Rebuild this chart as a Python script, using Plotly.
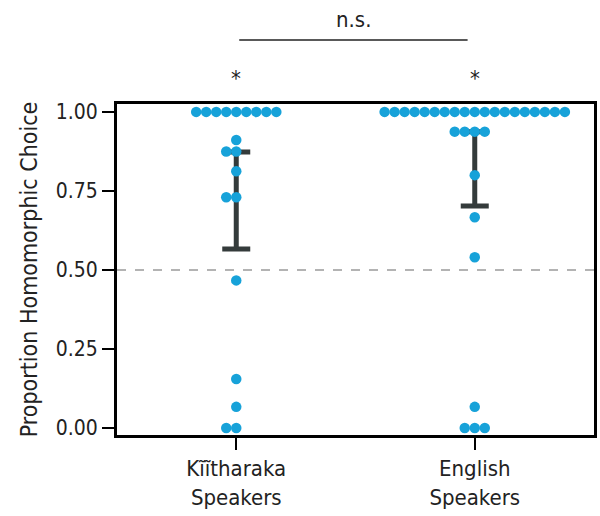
import plotly.graph_objects as go

categories = ["Kĩĩtharaka<br>Speakers", "English<br>Speakers"]
kiitharaka_vals = [1.0]*9 + [0.911, 0.875, 0.875, 0.8125, 0.73, 0.73, 0.467, 0.155, 0.067, 0.0, 0.0]
english_vals = [1.0]*19 + [0.9375]*4 + [0.80, 0.667, 0.54, 0.067, 0.0, 0.0, 0.0]
err_center = [0.72, 0.82]
err_half = [0.1535, 0.1175]
y_ticks = [0.0, 0.25, 0.5, 0.75, 1.0]
y_ticklabels = ["0.00", "0.25", "0.50", "0.75", "1.00"]
chance_level = 0.5
stars = ["*", "*"]
comparison_label = "n.s."

DOT = "#17A2D9"
BAR = "#343b3b"
FONT = "DejaVu Sans Condensed, Liberation Sans Narrow, Roboto, sans-serif"
SPACING = 0.042  # swarm offset in x data units
YR = [-0.022, 1.025]


def swarm(vals, center):
    xs, counts = [], {}
    for v in vals:
        k = counts.get(v, 0)
        counts[v] = k + 1
        step = (k + 1) // 2
        off = 0 if k == 0 else (-step if k % 2 == 1 else step)
        xs.append(center + off * SPACING)
    return xs

fig = go.Figure()
fig.add_trace(go.Scatter(
    x=[0, 1], y=err_center, mode="markers",
    marker=dict(size=0.1, color="rgba(0,0,0,0)"),
    error_y=dict(type="data", array=err_half, visible=True, thickness=5, width=14, color=BAR),
    showlegend=False, hoverinfo="skip"))
for i, vals in enumerate([kiitharaka_vals, english_vals]):
    fig.add_trace(go.Scatter(
        x=swarm(vals, i), y=vals, mode="markers",
        marker=dict(size=10.5, color=DOT, line=dict(width=0)),
        showlegend=False))

fig.add_shape(type="line", xref="x", yref="y", x0=-0.5, x1=1.5, y0=chance_level, y1=chance_level,
              line=dict(color="#9a9a9a", width=1.5, dash="dash"), layer="below")

PH = 331.0
def paper_y(px):  # px measured from top of page
    return 1 + (104 - px) / PH

for i, s in enumerate(stars):
    fig.add_annotation(x=i, xref="x", y=paper_y(78), yref="paper", yanchor="middle", text=s,
                       showarrow=False, font=dict(size=22, color="#222"))

fig.add_shape(type="line", xref="x", yref="paper", x0=0.0125, x1=0.97,
              y0=paper_y(40), y1=paper_y(40), line=dict(color="#222", width=1.5))
fig.add_annotation(x=0.49, xref="x", y=paper_y(19), yref="paper", text=comparison_label,
                   showarrow=False, yanchor="middle", font=dict(size=22, color="#222"))

fig.update_layout(
    width=600, height=516,
    margin=dict(l=117, r=3, t=104, b=81),
    plot_bgcolor="white", paper_bgcolor="white",
    font=dict(family=FONT, size=18, color="#222"),
    xaxis=dict(range=[-0.5, 1.5], tickvals=[0, 1], ticktext=categories,
               showline=True, mirror=True, linecolor="black", linewidth=3,
               ticks="outside", ticklen=12, tickwidth=2, tickcolor="black",
               showgrid=False, zeroline=False, tickfont=dict(size=22)),
    yaxis=dict(range=YR, tickvals=y_ticks, ticktext=y_ticklabels,
               showline=True, mirror=True, linecolor="black", linewidth=3,
               ticks="outside", ticklen=12, tickwidth=2, tickcolor="black",
               showgrid=False, zeroline=False, tickfont=dict(size=21),
               title=dict(text="Proportion Homomorphic Choice", font=dict(size=23), standoff=12)),
)

fig.write_html("out.html", config={"displayModeBar": False})
with open("out.html", encoding="utf-8") as f:
    html = f.read()
html = html.replace("<head>", "<head><style>html,body{margin:0;padding:0;}</style>", 1)
with open("out.html", "w", encoding="utf-8") as f:
    f.write(html)
